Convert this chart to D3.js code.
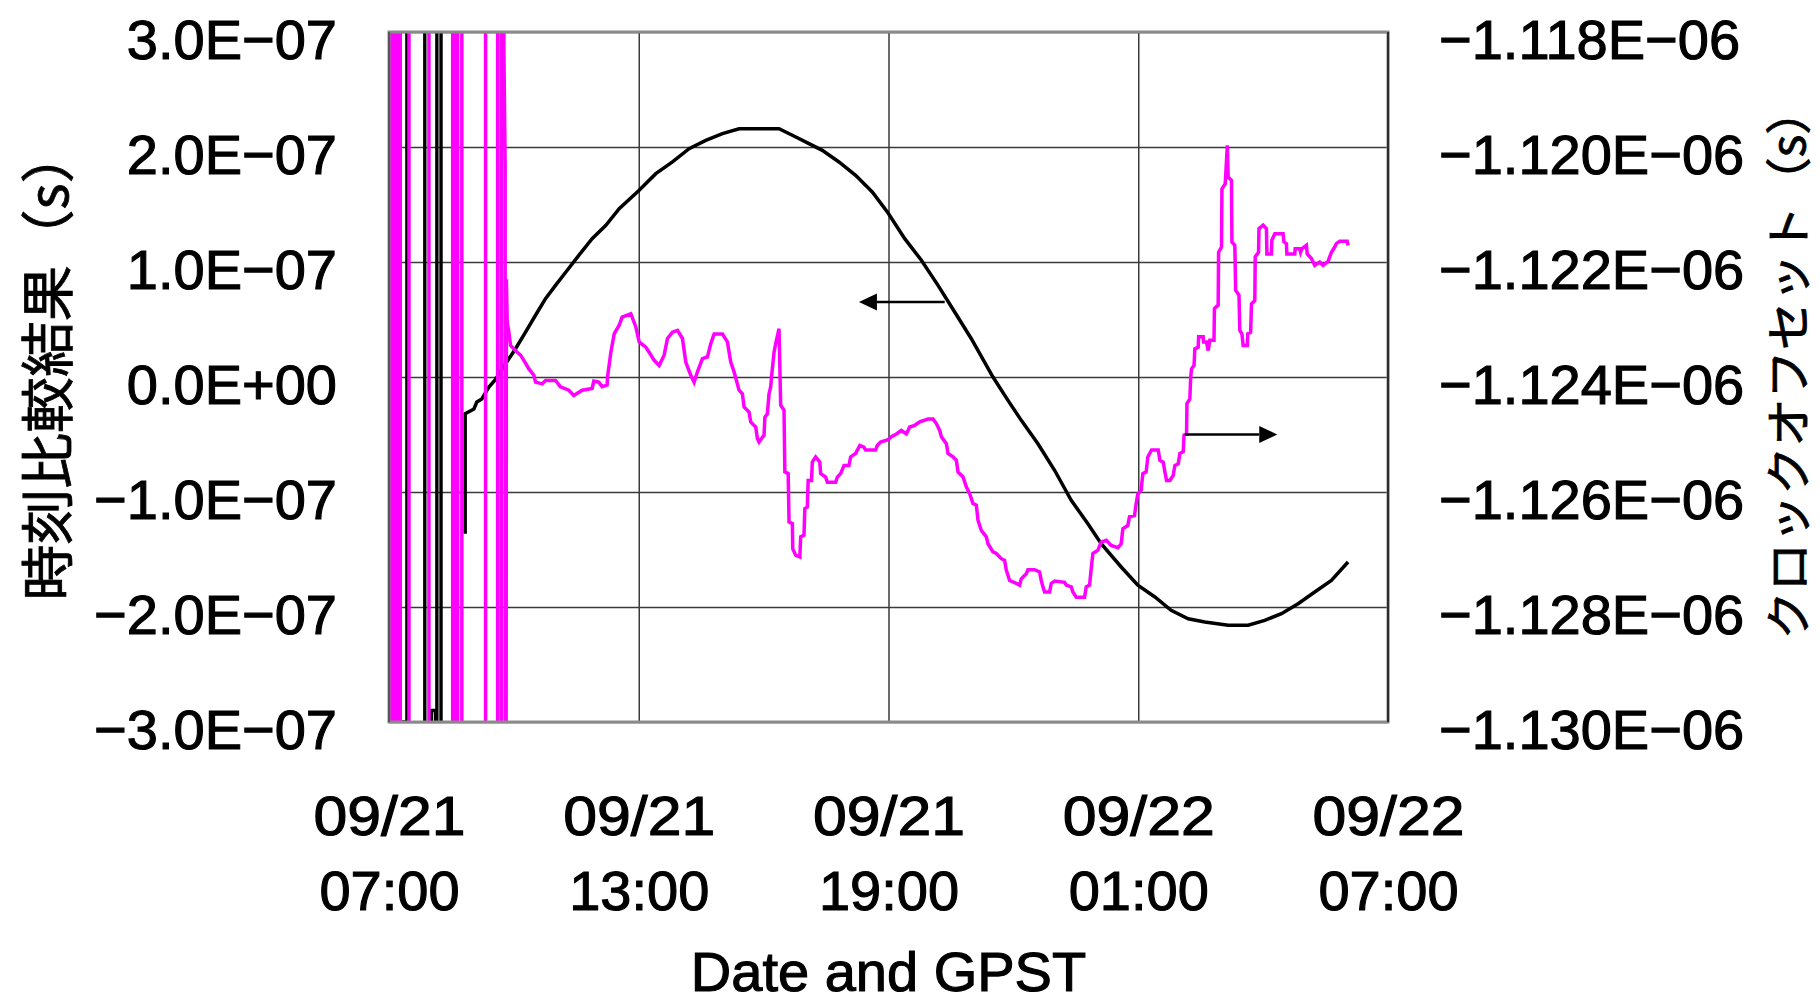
<!DOCTYPE html>
<html><head><meta charset="utf-8">
<script src="https://cdn.jsdelivr.net/npm/d3@7/dist/d3.min.js"></script>
<style>body{margin:0;background:#fff;overflow:hidden}</style>
</head><body><svg id="chart" width="1820" height="1004"></svg>
<script>
// ---- axis ticks / labels ----
const leftTicks = [-300, -200, -100, 0, 100, 200, 300];            // ns
const leftTickLabels = ["−3.0E−07", "−2.0E−07", "−1.0E−07", "0.0E+00", "1.0E−07", "2.0E−07", "3.0E−07"];
const rightTicks = [-1130, -1128, -1126, -1124, -1122, -1120, -1118]; // ns
const rightTickLabels = ["−1.130E−06", "−1.128E−06", "−1.126E−06", "−1.124E−06", "−1.122E−06", "−1.120E−06", "−1.118E−06"];
const xTicks = [0, 6, 12, 18, 24];                                    // hours since 09/21 07:00
const xTickDates = ["09/21", "09/21", "09/21", "09/22", "09/22"];
const xTickTimes = ["07:00", "13:00", "19:00", "01:00", "07:00"];
const leftTitle = "時刻比較結果（s）";
const rightTitle = "クロックオフセット（s）";
const xTitle = "Date and GPST";

// ---- black series (time comparison result, left axis, ns) ----
// early off-scale excursions (clipped)
const blackSpikes = [[0.00,-300],[0.43,-300],[0.43,2000],[0.86,2000],[0.86,-2000],[1.02,-2000],[1.02,-290],
  [1.12,-290],[1.12,-2000],[1.15,-2000],[1.15,2000],[1.25,2000],[1.25,-2000]];
const blackSeries = [[1.83,-136.3],[1.83,-31.9],[2.04,-27.8],[2.11,-21.7],[2.23,-19.1],[2.33,-13.0],[2.40,-8.7],
  [2.55,-2.6],[2.72,7.2],[3.04,24.6],[3.28,39.1],[3.52,53.7],[3.76,68.1],[4.00,79.7],[4.25,91.3],[4.56,105.8],
  [4.88,120.3],[5.21,131.9],[5.53,146.4],[6.01,162.3],[6.41,176.8],[6.81,187.0],[7.21,198.5],[7.61,205.8],
  [8.01,211.6],[8.41,215.9],[9.37,215.9],[9.69,210.2],[10.09,202.9],[10.41,197.1],[10.81,187.0],[11.21,175.4],
  [11.61,160.9],[11.99,142.6],[12.39,120.3],[12.79,101.5],[13.19,79.7],[13.59,56.5],[13.99,33.3],[14.51,0],
  [14.87,-20.3],[15.19,-37.7],[15.59,-58.0],[15.99,-81.1],[16.39,-107.2],[16.79,-127.6],[17.11,-145.0],
  [17.59,-165.2],[17.99,-181.1],[18.40,-191.3],[18.79,-202.9],[19.20,-210.2],[19.60,-213.0],[20.16,-215.9],
  [20.64,-215.9],[21.04,-211.6],[21.44,-205.8],[21.84,-197.1],[22.24,-187.0],[22.64,-176.8],[23.04,-160.9]];

// ---- magenta series (clock offset, right axis, ns) ----
const magentaSeries = [
  [0.03,-1150],[0.03,-1100],[0.06,-1100],[0.06,-1150],[0.09,-1150],[0.09,-1100],[0.12,-1100],[0.12,-1150],
  [0.15,-1150],[0.15,-1100],[0.18,-1100],[0.18,-1150],[0.21,-1150],[0.21,-1100],[0.24,-1100],[0.24,-1150],
  [0.27,-1150],[0.27,-1100],[0.48,-1100],[0.48,-1150],
  [0.96,-1150],[0.96,-1100],[1.53,-1100],[1.53,-1150],[1.57,-1150],[1.57,-1100],[1.61,-1100],[1.61,-1150],
  [1.65,-1150],[1.65,-1100],[1.75,-1100],[1.75,-1150],[2.32,-1150],[2.32,-1100],[2.61,-1100],[2.61,-1150],
  [2.70,-1150],[2.70,-1100],[2.73,-1100],
  [2.76,-1118.29],[2.79,-1120.31],[2.80,-1150],[2.82,-1122.30],[2.84,-1123.04],[2.88,-1123.22],[2.92,-1123.45],
  [3.08,-1123.57],[3.16,-1123.62],[3.24,-1123.71],[3.36,-1123.86],[3.48,-1123.97],[3.52,-1124.09],[3.68,-1124.12],
  [3.76,-1124.06],[4.00,-1124.06],[4.12,-1124.17],[4.32,-1124.23],[4.44,-1124.32],[4.64,-1124.23],[4.88,-1124.20],
  [4.92,-1124.07],[5.04,-1124.09],[5.12,-1124.17],[5.24,-1124.14],[5.25,-1124.00],[5.33,-1123.57],[5.41,-1123.25],
  [5.53,-1123.10],[5.60,-1122.96],[5.81,-1122.90],[5.93,-1123.13],[6.01,-1123.39],[6.17,-1123.48],[6.25,-1123.57],
  [6.37,-1123.71],[6.49,-1123.80],[6.61,-1123.62],[6.69,-1123.33],[6.81,-1123.22],[6.93,-1123.19],[7.05,-1123.33],
  [7.13,-1123.74],[7.25,-1123.97],[7.33,-1124.09],[7.41,-1123.91],[7.53,-1123.68],[7.65,-1123.65],[7.73,-1123.42],
  [7.81,-1123.25],[8.01,-1123.25],[8.13,-1123.39],[8.21,-1123.74],[8.29,-1123.91],[8.41,-1124.23],[8.49,-1124.29],
  [8.53,-1124.52],[8.65,-1124.61],[8.69,-1124.78],[8.81,-1124.87],[8.85,-1125.07],[8.89,-1125.13],[9.01,-1125.01],
  [9.03,-1124.70],[9.09,-1124.64],[9.13,-1124.29],[9.17,-1124.17],[9.19,-1124.00],[9.25,-1123.57],[9.29,-1123.42],
  [9.37,-1123.16],[9.41,-1124.49],[9.49,-1124.58],[9.51,-1125.65],[9.59,-1125.68],[9.61,-1126.52],[9.69,-1126.55],
  [9.70,-1126.99],[9.77,-1127.10],[9.87,-1127.13],[9.89,-1126.78],[9.97,-1126.75],[9.99,-1126.29],[10.05,-1126.26],
  [10.07,-1125.80],[10.15,-1125.80],[10.17,-1125.48],[10.25,-1125.39],[10.35,-1125.48],[10.37,-1125.68],
  [10.49,-1125.74],[10.53,-1125.83],[10.73,-1125.83],[10.77,-1125.74],[10.85,-1125.68],[10.93,-1125.54],
  [11.05,-1125.54],[11.09,-1125.39],[11.21,-1125.33],[11.31,-1125.19],[11.41,-1125.22],[11.45,-1125.27],
  [11.69,-1125.27],[11.73,-1125.19],[11.81,-1125.13],[11.99,-1125.09],[12.07,-1125.04],[12.19,-1124.99],
  [12.31,-1124.93],[12.43,-1124.99],[12.51,-1124.87],[12.63,-1124.84],[12.75,-1124.78],[12.95,-1124.73],
  [13.07,-1124.73],[13.15,-1124.81],[13.23,-1124.93],[13.27,-1125.04],[13.39,-1125.16],[13.43,-1125.33],
  [13.55,-1125.39],[13.63,-1125.45],[13.67,-1125.65],[13.79,-1125.74],[13.87,-1125.91],[13.95,-1126.03],
  [14.03,-1126.20],[14.11,-1126.23],[14.15,-1126.49],[14.23,-1126.67],[14.35,-1126.78],[14.39,-1126.90],
  [14.51,-1127.04],[14.59,-1127.07],[14.71,-1127.16],[14.79,-1127.19],[14.83,-1127.36],[14.91,-1127.54],
  [15.07,-1127.59],[15.15,-1127.62],[15.19,-1127.51],[15.31,-1127.42],[15.35,-1127.35],[15.51,-1127.35],
  [15.63,-1127.39],[15.67,-1127.54],[15.71,-1127.65],[15.75,-1127.74],[15.87,-1127.74],[15.91,-1127.59],
  [15.99,-1127.55],[16.23,-1127.57],[16.27,-1127.62],[16.39,-1127.65],[16.43,-1127.74],[16.51,-1127.83],
  [16.71,-1127.83],[16.75,-1127.65],[16.83,-1127.62],[16.87,-1127.33],[16.91,-1127.07],[17.03,-1127.01],
  [17.11,-1126.87],[17.23,-1126.84],[17.35,-1126.93],[17.51,-1126.97],[17.59,-1126.90],[17.63,-1126.64],
  [17.75,-1126.58],[17.79,-1126.43],[17.91,-1126.41],[17.95,-1126.20],[17.99,-1126.03],[18.07,-1125.97],
  [18.11,-1125.68],[18.19,-1125.65],[18.23,-1125.39],[18.32,-1125.27],[18.48,-1125.27],[18.52,-1125.45],
  [18.60,-1125.48],[18.64,-1125.65],[18.68,-1125.80],[18.76,-1125.80],[18.84,-1125.71],[18.88,-1125.54],
  [18.96,-1125.51],[19.00,-1125.33],[19.08,-1125.30],[19.10,-1125.01],[19.16,-1124.99],[19.17,-1124.46],
  [19.24,-1124.38],[19.26,-1124.00],[19.28,-1123.86],[19.34,-1123.80],[19.36,-1123.51],[19.44,-1123.48],
  [19.45,-1123.30],[19.56,-1123.30],[19.57,-1123.39],[19.64,-1123.39],[19.68,-1123.54],[19.72,-1123.36],
  [19.82,-1123.36],[19.83,-1122.81],[19.92,-1122.75],[19.93,-1121.83],[20.00,-1121.74],[20.01,-1120.73],
  [20.09,-1120.64],[20.14,-1119.97],[20.16,-1120.52],[20.24,-1120.58],[20.25,-1121.65],[20.32,-1121.71],
  [20.34,-1122.49],[20.42,-1122.58],[20.44,-1123.19],[20.49,-1123.25],[20.52,-1123.45],[20.62,-1123.45],
  [20.63,-1123.25],[20.70,-1123.22],[20.72,-1122.73],[20.80,-1122.67],[20.81,-1121.91],[20.89,-1121.83],
  [20.90,-1121.42],[21.00,-1121.36],[21.08,-1121.42],[21.09,-1121.86],[21.20,-1121.86],[21.21,-1121.62],
  [21.28,-1121.51],[21.48,-1121.51],[21.50,-1121.65],[21.56,-1121.68],[21.57,-1121.86],[21.76,-1121.86],
  [21.77,-1121.77],[21.88,-1121.77],[21.90,-1121.83],[21.93,-1121.77],[22.04,-1121.71],[22.06,-1121.86],
  [22.16,-1121.94],[22.24,-1122.06],[22.36,-1122.00],[22.44,-1122.06],[22.56,-1121.99],[22.64,-1121.83],
  [22.72,-1121.74],[22.76,-1121.68],[22.84,-1121.64],[23.02,-1121.64],[23.04,-1121.71]];

// ---- annotation arrows (data coordinates) ----
const leftArrow = {axis: "left", value: 65.2, from: 13.35, to: 11.29};
const rightArrow = {axis: "right", value: -1125.0, from: 19.12, to: 21.34};

// ================= drawing =================
const svg = d3.select("#chart");
const plot = {left: 389, right: 1388, top: 32, bottom: 722};
const pw = plot.right - plot.left, ph = plot.bottom - plot.top;
const FONT = "'Liberation Sans', Arial, sans-serif";
const CJK = "'Noto Sans CJK JP', sans-serif";

const x = d3.scaleLinear().domain([0, 24]).range([plot.left, plot.right]);
const yL = d3.scaleLinear().domain([-300, 300]).range([plot.bottom, plot.top]);
const yR = d3.scaleLinear().domain([-1130, -1118]).range([plot.bottom, plot.top]);

svg.append("rect").attr("width", 1820).attr("height", 1004).attr("fill", "#fff");

function heavy(sel) {
  return sel.attr("fill", "#000").attr("stroke", "#000").attr("stroke-width", 1.1).attr("paint-order", "stroke");
}

// horizontal grid + left labels
const gL = svg.append("g").attr("transform", `translate(${plot.left},0)`)
  .call(d3.axisLeft(yL).tickValues(leftTicks).tickSize(-pw).tickPadding(52)
    .tickFormat((d, i) => leftTickLabels[i]));
gL.select(".domain").remove();
gL.selectAll(".tick line").attr("stroke", "#3a3a3a").attr("stroke-width", 1.5);
heavy(gL.selectAll(".tick text").attr("font-family", FONT).attr("font-size", 56).attr("dy", 26));

// vertical grid + x labels
const gX = svg.append("g").attr("transform", `translate(0,${plot.bottom})`)
  .call(d3.axisBottom(x).tickValues(xTicks).tickSize(-ph).tickFormat(""));
gX.select(".domain").remove();
gX.selectAll(".tick line").attr("stroke", "#3a3a3a").attr("stroke-width", 1.5);
gX.selectAll(".tick").each(function(d, i) {
  const t = heavy(d3.select(this).append("text").attr("font-family", FONT).attr("font-size", 56)
    .attr("text-anchor", "middle"));
  t.append("tspan").attr("x", 0).attr("y", 113).attr("textLength", 152)
    .attr("lengthAdjust", "spacingAndGlyphs").text(xTickDates[i]);
  t.append("tspan").attr("x", 0).attr("y", 188).text(xTickTimes[i]);
});

// right labels
const gR = svg.append("g").attr("transform", `translate(${plot.right},0)`)
  .call(d3.axisRight(yR).tickValues(rightTicks).tickSize(0).tickPadding(51)
    .tickFormat((d, i) => rightTickLabels[i]));
gR.select(".domain").remove();
heavy(gR.selectAll(".tick text").attr("font-family", FONT).attr("font-size", 56).attr("dy", 26));

// clip
svg.append("clipPath").attr("id", "clip").append("rect")
  .attr("x", plot.left).attr("y", plot.top).attr("width", pw).attr("height", ph);
const series = svg.append("g").attr("clip-path", "url(#clip)");

const lineL = d3.line().x(d => x(d[0])).y(d => yL(d[1]));
const lineR = d3.line().x(d => x(d[0])).y(d => yR(d[1]));

series.append("path").datum(blackSpikes).attr("d", lineL).attr("fill", "none")
  .attr("stroke", "#000").attr("stroke-width", 3.4);
series.append("path").datum(blackSeries).attr("d", lineL).attr("fill", "none")
  .attr("stroke", "#000").attr("stroke-width", 3.5).attr("stroke-linejoin", "miter");
series.append("path").datum(magentaSeries).attr("d", lineR).attr("fill", "none")
  .attr("stroke", "#ff00ff").attr("stroke-width", 3.5).attr("stroke-linejoin", "miter");

// frame
svg.append("rect").attr("x", plot.left).attr("y", plot.top).attr("width", pw).attr("height", ph)
  .attr("fill", "none").attr("stroke", "#8a8a8a").attr("stroke-width", 3);
svg.append("line").attr("x1", plot.left).attr("x2", plot.left).attr("y1", plot.top).attr("y2", plot.bottom)
  .attr("stroke", "#444").attr("stroke-width", 1.5);
svg.append("line").attr("x1", plot.right).attr("x2", plot.right).attr("y1", plot.top).attr("y2", plot.bottom)
  .attr("stroke", "#222").attr("stroke-width", 1.8);

// arrows
function drawArrow(a) {
  const ys = a.axis === "left" ? yL : yR;
  const yy = ys(a.value), x0 = x(a.from), x1 = x(a.to);
  const dir = Math.sign(x1 - x0), len = 18, hw = 8.5;
  svg.append("line").attr("x1", x0).attr("x2", x1 - dir * len).attr("y1", yy).attr("y2", yy)
    .attr("stroke", "#000").attr("stroke-width", 2.4);
  svg.append("path").attr("d", `M${x1},${yy}L${x1 - dir * len},${yy - hw}L${x1 - dir * len},${yy + hw}Z`)
    .attr("fill", "#000");
}
drawArrow(leftArrow);
drawArrow(rightArrow);

// titles
heavy(svg.append("text").attr("transform", `translate(44,364) rotate(-90)`)
  .attr("text-anchor", "middle").attr("dominant-baseline", "central")
  .attr("font-family", CJK).attr("font-size", 54)
  .attr("textLength", 473).attr("lengthAdjust", "spacingAndGlyphs").text(leftTitle))
  .attr("stroke-width", 0.8);
heavy(svg.append("text").attr("transform", `translate(1785,363) rotate(-90)`)
  .attr("text-anchor", "middle").attr("dominant-baseline", "central")
  .attr("font-family", CJK).attr("font-size", 46)
  .attr("textLength", 553).attr("lengthAdjust", "spacingAndGlyphs").text(rightTitle))
  .attr("stroke-width", 0.8);
heavy(svg.append("text").attr("x", (plot.left + plot.right) / 2).attr("y", 991)
  .attr("text-anchor", "middle").attr("font-family", FONT).attr("font-size", 56)
  .text(xTitle));
</script>
</body></html>
